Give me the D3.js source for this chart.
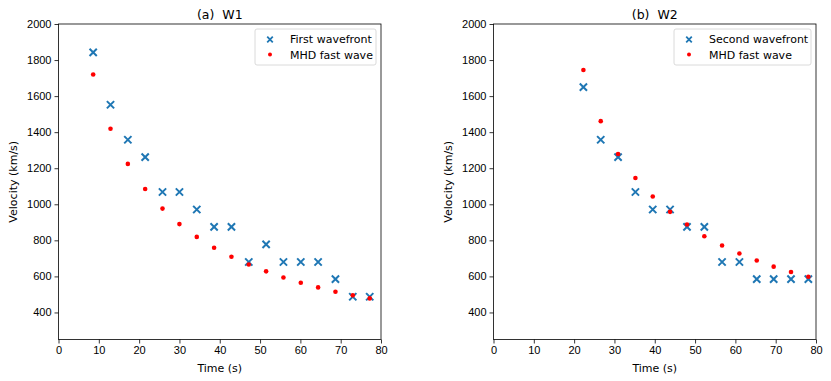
<!DOCTYPE html>
<html>
<head>
<meta charset="utf-8">
<script src="https://cdn.jsdelivr.net/npm/d3@7"></script>
<style>
  body { margin: 0; background: #fff; }
  svg { font-family: "DejaVu Sans", sans-serif; }
</style>
</head>
<body>
<div id="chart"></div>
<script>
// DATA
const w1Time = [8.6, 12.9, 17.2, 21.5, 25.8, 30.0, 34.3, 38.6, 42.9, 47.2, 51.5, 55.8, 60.1, 64.4, 68.7, 73.0, 77.2];
const w1Front = [1843, 1552, 1358, 1262, 1068, 1068, 971, 875, 875, 680, 778, 680, 680, 680, 585, 487, 487];
const w1Fast = [1720, 1419, 1224, 1085, 976, 890, 819, 759, 709, 666, 628, 594, 565, 539, 515, 495, 478];

const w2Time = [22.3, 26.6, 30.9, 35.2, 39.5, 43.8, 48.0, 52.3, 56.7, 61.0, 65.3, 69.5, 73.8, 78.1];
const w2Front = [1650, 1358, 1262, 1068, 971, 971, 875, 875, 680, 680, 585, 585, 585, 585];
const w2Fast = [1745, 1461, 1279, 1146, 1043, 958, 888, 823, 771, 727, 688, 654, 624, 598];

const xTicks = [0, 10, 20, 30, 40, 50, 60, 70, 80];
const yTicks = [400, 600, 800, 1000, 1200, 1400, 1600, 1800, 2000];

const panels = [
  { left: 58.5, title: "(a)  W1", time: w1Time, front: w1Front, fast: w1Fast, frontLabel: "First wavefront" },
  { left: 493.5, title: "(b)  W2", time: w2Time, front: w2Front, fast: w2Fast, frontLabel: "Second wavefront" }
];

const W = 831, H = 381;
const plotW = 322.5, plotTop = 24, plotBottom = 339.5;

const svg = d3.select("#chart")
  .append("svg")
  .attr("width", W)
  .attr("height", H);

panels.forEach(p => {
  const xs = d3.scaleLinear().domain([0, 80]).range([p.left, p.left + plotW]);
  const ys = d3.scaleLinear().domain([250, 2000]).range([plotBottom, plotTop]);

  const g = svg.append("g");

  // axes
  g.append("g")
    .attr("transform", `translate(0,${plotBottom})`)
    .call(d3.axisBottom(xs).tickValues(xTicks).tickFormat(d3.format("d")).tickSize(4).tickPadding(3))
    .call(a => a.select(".domain").remove());
  g.append("g")
    .attr("transform", `translate(${p.left},0)`)
    .call(d3.axisLeft(ys).tickValues(yTicks).tickFormat(d3.format("d")).tickSize(4).tickPadding(3))
    .call(a => a.select(".domain").remove());
  g.selectAll(".tick text").style("font-size", "11px").attr("fill", "#000");
  g.selectAll(".tick line").attr("stroke", "#000").attr("stroke-width", 0.8);

  // frame
  g.append("rect")
    .attr("x", p.left)
    .attr("y", plotTop)
    .attr("width", plotW)
    .attr("height", plotBottom - plotTop)
    .attr("fill", "none")
    .attr("stroke", "#000")
    .attr("stroke-width", 0.8);

  // labels
  g.append("text")
    .attr("x", p.left + plotW / 2)
    .attr("y", 372)
    .attr("text-anchor", "middle")
    .style("font-size", "11px")
    .text("Time (s)");
  g.append("text")
    .attr("transform", `translate(${p.left - 42},${(plotTop + plotBottom) / 2}) rotate(-90)`)
    .attr("text-anchor", "middle")
    .style("font-size", "11px")
    .text("Velocity (km/s)");
  g.append("text")
    .attr("x", p.left + plotW / 2)
    .attr("y", 19)
    .attr("text-anchor", "middle")
    .style("font-size", "12.5px")
    .style("white-space", "pre")
    .text(p.title);

  // markers: wavefront (x)
  const cross = d3.symbol().type(d3.symbolTimes).size(36);
  g.append("g")
    .selectAll("path")
    .data(p.time.map((t, i) => [t, p.front[i]]))
    .enter()
    .append("path")
    .attr("d", cross)
    .attr("transform", d => `translate(${xs(d[0])},${ys(d[1])})`)
    .attr("fill", "none")
    .attr("stroke", "#1f77b4")
    .attr("stroke-width", 2);

  // MHD fast wave dots
  g.append("g")
    .selectAll("circle")
    .data(p.time.map((t, i) => [t, p.fast[i]]))
    .enter()
    .append("circle")
    .attr("cx", d => xs(d[0]))
    .attr("cy", d => ys(d[1]))
    .attr("r", 2.3)
    .attr("fill", "red");

  // legend
  const legW = p.frontLabel === "First wavefront" ? 121 : 137;
  const lg = g.append("g");
  lg.append("rect")
    .attr("x", p.left + plotW - 5 - legW)
    .attr("y", 29)
    .attr("width", legW)
    .attr("height", 36)
    .attr("rx", 2)
    .attr("fill", "#fff")
    .attr("stroke", "#d0d0d0")
    .attr("stroke-width", 0.8);
  const mx = p.left + plotW - 5 - legW + 15;
  lg.append("path")
    .attr("d", d3.symbol().type(d3.symbolTimes).size(22))
    .attr("transform", `translate(${mx},39.5)`)
    .attr("fill", "none")
    .attr("stroke", "#1f77b4")
    .attr("stroke-width", 1.8);
  lg.append("circle")
    .attr("cx", mx)
    .attr("cy", 54.5)
    .attr("r", 2)
    .attr("fill", "red");
  lg.append("text")
    .attr("x", mx + 20)
    .attr("y", 43)
    .style("font-size", "11px")
    .text(p.frontLabel);
  lg.append("text")
    .attr("x", mx + 20)
    .attr("y", 58.5)
    .style("font-size", "11px")
    .text("MHD fast wave");
});
</script>
</body>
</html>
